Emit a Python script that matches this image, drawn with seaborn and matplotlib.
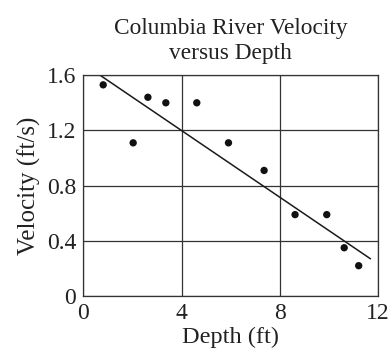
import matplotlib.pyplot as plt
import seaborn as sns
import pandas as pd

# values
depth = [0.81, 2.03, 2.63, 3.36, 4.62, 5.91, 7.36, 8.62, 9.91, 10.62, 11.21]
velocity = [1.53, 1.11, 1.44, 1.40, 1.40, 1.11, 0.91, 0.59, 0.59, 0.35, 0.22]
fit_depth = [0.68, 11.69]
fit_velocity = [1.60, 0.27]
x_ticks = [0, 4, 8, 12]
y_ticks = [0, 0.4, 0.8, 1.2, 1.6]
y_tick_labels = ["0", "0.4", "0.8", "1.2", "1.6"]

sns.set_style("white")
plt.rcParams["font.family"] = ["Liberation Serif", "DejaVu Serif"]

pts = pd.DataFrame({"Depth": depth, "Velocity": velocity})
fit = pd.DataFrame({"Depth": fit_depth, "Velocity": fit_velocity})

fig = plt.figure(figsize=(3.91, 3.58), dpi=100)
ax = fig.add_axes([0.213, 0.173, 0.754, 0.617])

sns.lineplot(data=fit, x="Depth", y="Velocity", ax=ax, color="#1a1a1a", linewidth=1.1)
sns.scatterplot(data=pts, x="Depth", y="Velocity", ax=ax, color="#111111",
                s=28, edgecolor="none", zorder=3)

ax.set_xlim(0, 12)
ax.set_ylim(0, 1.6)
ax.set_xticks(x_ticks)
ax.set_yticks(y_ticks)
ax.set_yticklabels(y_tick_labels)
ax.grid(True, color="#333333", linewidth=0.9)
ax.set_axisbelow(True)
for sp in ax.spines.values():
    sp.set_color("#333333")
    sp.set_linewidth(0.9)
ax.tick_params(direction="out", length=4, width=0.9, color="#333333",
               labelsize=17, labelcolor="#222222", pad=1)

ax.set_xlabel("Depth (ft)", fontsize=17.5, color="#222222", labelpad=2)
ax.set_ylabel("Velocity (ft/s)", fontsize=18, color="#222222", labelpad=4)
ax.set_title("Columbia River Velocity\nversus Depth", fontsize=16.8,
             color="#222222", linespacing=1.2, pad=12)

fig.savefig("out.png", dpi=100)
